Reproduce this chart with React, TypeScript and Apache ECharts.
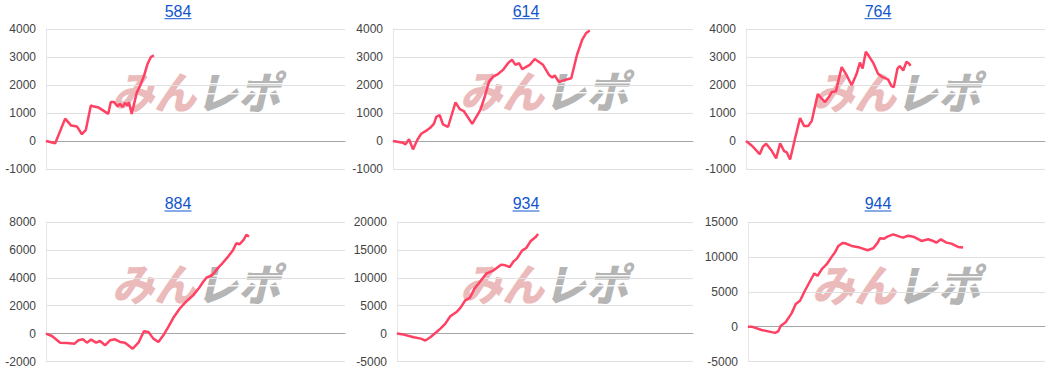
import React, { useEffect, useRef } from "react";
import * as echarts from "echarts";

// x = play index (shared axis 0..X_MAX), y = balance
const X_MAX = 120;
const TITLES = ["584", "614", "764", "884", "934", "944"];

const s584: [number, number][] = [
  [0, 0], [3.7, -80], [7.7, 800], [10.1, 550], [12.4, 520], [14.4, 240], [16, 400], [18, 1270],
  [19.3, 1230], [21, 1200], [25, 970], [26, 1390], [27.3, 1390], [28.7, 1240], [29.7, 1330],
  [30.7, 1210], [31.7, 1360], [32.7, 1260], [33.3, 1380], [34.4, 970], [36.4, 1720], [37.7, 1960],
  [39.3, 2320], [40.7, 2740], [42.1, 3000], [43.3, 3060],
];
const s614: [number, number][] = [
  [0, 0], [4, -60], [5, -120], [6.4, 60], [8, -300], [9.6, 20], [11.3, 260], [13, 350], [14.9, 470],
  [16.4, 620], [17.3, 860], [18.7, 920], [20, 590], [22, 500], [25, 1380], [26.7, 1140], [28.3, 1070],
  [31.7, 610], [34.9, 1100], [36.7, 1580], [38.4, 2120], [40, 2300], [42, 2390], [44, 2540], [46, 2780],
  [47.6, 2900], [49, 2720], [50.4, 2780], [51.7, 2570], [54.7, 2720], [56.7, 2930], [60, 2720],
  [62.4, 2360], [63.7, 2270], [64.7, 2340], [66.4, 2100], [68.7, 2180], [71.3, 2240], [73.6, 3080],
  [75.7, 3620], [77.3, 3860], [78.7, 3950],
];
const s764: [number, number][] = [
  [0, 0], [2.4, -170], [5.5, -470], [6.8, -200], [8.1, -100], [10.4, -360], [12.1, -620], [13.7, -80],
  [15.3, -360], [16.4, -410], [17.7, -660], [19.7, 100], [21.7, 820], [23.3, 540], [25, 540], [26.4, 720],
  [28.8, 1680], [30.4, 1510], [31.7, 1390], [33.5, 1600], [34.4, 1750], [36.1, 1780], [38.4, 2640],
  [40.4, 2350], [42.4, 1990], [44.4, 2400], [45.7, 2800], [46.8, 2590], [48.1, 3190], [49.7, 2980],
  [51, 2800], [53, 2400], [54.8, 2280], [57, 2200], [58.4, 1960], [59.3, 1920], [60.8, 2590],
  [61.7, 2680], [63.1, 2520], [64.4, 2830], [65.5, 2760], [66, 2680],
];
const s884: [number, number][] = [
  [0, 0], [2.4, -170], [5.7, -650], [8.4, -670], [11.5, -720], [13, -480], [14.8, -410], [16.4, -650],
  [18.1, -430], [20.1, -650], [21.7, -530], [23.7, -840], [25.7, -480], [27.7, -410], [29.7, -600],
  [31.7, -650], [34.8, -1080], [37.1, -650], [39.3, 170], [41.1, 120], [43.1, -360], [45.1, -600],
  [47.1, -120], [49.1, 480], [51.1, 1130], [53.7, 1800], [56.4, 2330], [59.1, 2760], [61.5, 3290],
  [63.1, 3720], [64.4, 4010], [66.8, 4200], [69.1, 4730], [70.8, 5040], [73.1, 5520], [75.1, 6000],
  [76.4, 6480], [77.7, 6410], [79.3, 6720], [80.4, 7080], [81.5, 6960],
];
const s934: [number, number][] = [
  [0, 0], [2.7, -180], [6.8, -660], [9.7, -900], [11.5, -1250], [13.5, -660], [15.9, 240], [17.6, 900],
  [19.6, 1790], [21.6, 3100], [24, 3820], [25.7, 4600], [27.7, 5970], [29.5, 6390], [31.4, 8060],
  [33.8, 9370], [36.2, 10750], [38.9, 11280], [42.2, 12360], [43.9, 12240], [45.7, 11940],
  [47.3, 12950], [48.6, 13430], [50.7, 14870], [52.4, 15340], [54.1, 16540], [56.1, 17250], [57.2, 17850],
];
const s944: [number, number][] = [
  [0, 0], [1.5, 0], [5.5, -480], [10.9, -900], [12.2, -670], [13.3, 140], [15.2, 620], [17.6, 1900],
  [19.3, 3240], [21, 3710], [23, 5140], [25, 6470], [26.8, 7620], [28.1, 7280], [30, 8330], [31.8, 8950],
  [33.8, 10000], [35.1, 10620], [36.5, 11570], [38.2, 12000], [39.2, 11950], [41.9, 11570], [45.2, 11330],
  [48.3, 10950], [50.6, 11230], [52.4, 12040], [53.3, 12660], [55, 12610], [56.6, 12950], [58.7, 13230],
  [61.3, 12900], [62.7, 12760], [64.7, 13040], [66.8, 12900], [70.1, 12280], [72.8, 12520], [74.8, 12280],
  [76.1, 12040], [77.9, 12520], [80.2, 12040], [82.2, 11900], [84.9, 11420], [86.9, 11330],
];

const SERIES = [s584, s614, s764, s884, s934, s944];
// [min, max, interval]
const Y_AXES: [number, number, number][] = [
  [-1000, 4000, 1000],
  [-1000, 4000, 1000],
  [-1000, 4000, 1000],
  [-2000, 8000, 2000],
  [-5000, 20000, 5000],
  [-5000, 15000, 5000],
];

const LAYOUT = [
  { left: 46, top: 29, width: 299, height: 140, tx: 178, ty: 11.5, uy: 18.7, wx: 112, wy: 90 },
  { left: 393, top: 29, width: 300, height: 140, tx: 526, ty: 11.5, uy: 18.7, wx: 460, wy: 89 },
  { left: 746, top: 29, width: 299, height: 140, tx: 878, ty: 11.5, uy: 18.7, wx: 812, wy: 90 },
  { left: 46, top: 222, width: 299, height: 139.5, tx: 178, ty: 203.5, uy: 211, wx: 112, wy: 282 },
  { left: 397, top: 222, width: 296, height: 139.5, tx: 526, ty: 203.5, uy: 211, wx: 460, wy: 282 },
  { left: 748, top: 222, width: 297, height: 139.5, tx: 878, ty: 203.5, uy: 211, wx: 812, wy: 283 },
];

const LINE_COLOR = "#ff4163";
const LINK_COLOR = "#1155cc";

function buildOption() {
  const grid = LAYOUT.map((l) => ({ left: l.left, top: l.top, width: l.width, height: l.height }));
  const xAxis = LAYOUT.map((_, i) => ({
    gridIndex: i,
    type: "value",
    min: 0,
    max: X_MAX,
    axisLine: { show: true, onZero: true, lineStyle: { color: "#a6a6a6", width: 1 } },
    axisTick: { show: false },
    axisLabel: { show: false },
    splitLine: { show: false },
  }));
  const yAxis = Y_AXES.map(([min, max, interval], i) => ({
    gridIndex: i,
    type: "value",
    min,
    max,
    interval,
    axisLine: { show: true, lineStyle: { color: "#e6e6e6" } },
    axisTick: { show: false },
    axisLabel: {
      color: "#444",
      fontSize: 12,
      fontFamily: "Arial, Liberation Sans",
      margin: 10,
      formatter: (v: number) => String(v),
    },
    splitLine: { lineStyle: { color: "#e0e0e0", width: 1 } },
  }));
  const series = SERIES.map((data, i) => ({
    type: "line",
    xAxisIndex: i,
    yAxisIndex: i,
    data,
    symbol: "none",
    showSymbol: false,
    lineStyle: { color: LINE_COLOR, width: 2.5 },
    z: 5,
  }));
  const graphic: any[] = [];
  LAYOUT.forEach((l, i) => {
    graphic.push({
      type: "text",
      x: l.tx,
      y: l.ty,
      style: {
        text: TITLES[i],
        fill: LINK_COLOR,
        font: "16px Arial, 'Liberation Sans'",
        textAlign: "center",
        textVerticalAlign: "middle",
      },
    });
    graphic.push({
      type: "line",
      shape: { x1: l.tx - 13.5, y1: l.uy, x2: l.tx + 13.5, y2: l.uy },
      style: { stroke: LINK_COLOR, lineWidth: 1 },
    });
    // watermark logo
    graphic.push({
      type: "group",
      x: l.wx,
      y: l.wy,
      z: -1,
      children: [
        {
          type: "text",
          x: 0,
          y: 0,
          scaleY: 1.05,
          style: {
            text: "みん",
            fill: "#ebbaba",
            font: "italic 900 42px 'Noto Sans CJK JP'",
            textAlign: "left",
            textVerticalAlign: "middle",
          },
        },
        {
          type: "text",
          x: 84,
          y: 0,
          scaleY: 1.05,
          style: {
            text: "レポ",
            fill: "#b5b5b5",
            font: "italic 900 42px 'Noto Sans CJK JP'",
            textAlign: "left",
            textVerticalAlign: "middle",
          },
        },
        {
          type: "rect",
          shape: { x: 84, y: -7, width: 90, height: 1.5 },
          style: { fill: "rgba(255,255,255,0.9)" },
        },
        {
          type: "rect",
          shape: { x: 84, y: 3, width: 90, height: 1.5 },
          style: { fill: "rgba(255,255,255,0.9)" },
        },
      ],
    });
  });
  return { animation: false, backgroundColor: "#fff", grid, xAxis, yAxis, series, graphic };
}

export default function App() {
  const ref = useRef<HTMLDivElement>(null);
  useEffect(() => {
    if (!ref.current) return;
    const chart = echarts.init(ref.current, null, { renderer: "svg" });
    chart.setOption(buildOption() as any);
    return () => chart.dispose();
  }, []);
  return (
    <div
      ref={ref}
      style={{ position: "fixed", left: 0, top: 0, width: 1050, height: 386, background: "#fff" }}
    />
  );
}
